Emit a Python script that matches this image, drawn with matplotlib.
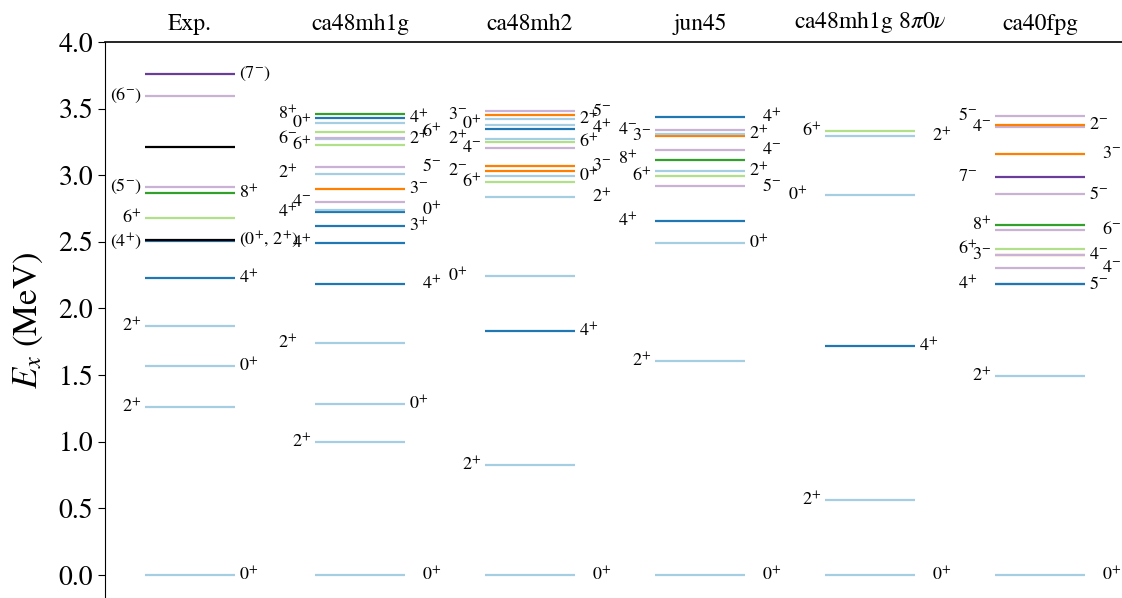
import re

import matplotlib.pyplot as plt
import numpy as np

plt.rcParams["font.family"] = "STIXGeneral"
plt.rcParams["mathtext.fontset"] = "stix"

# column titles
models = ["Exp.", "ca48mh1g", "ca48mh2", "jun45", r"ca48mh1g $8\pi0\nu$", "ca40fpg"]

# level energies (MeV) and spin-parity labels per column
exp_E = [0.0, 1.263, 1.568, 1.869, 2.231, 2.505, 2.515, 2.680, 2.864, 2.914, 3.210, 3.597, 3.760]
exp_J = ["0+", "2+", "0+", "2+", "4+", "(4+)", "(0+,2+)", "6+", "8+", "(5-)", "", "(6-)", "(7-)"]

mh1g_E = [0.0, 1.000, 1.283, 1.739, 2.186, 2.490, 2.617, 2.722, 2.739, 2.800,
          2.894, 3.012, 3.065, 3.227, 3.270, 3.277, 3.322, 3.392, 3.432, 3.457]
mh1g_J = ["0+", "2+", "0+", "2+", "4+", "4+", "3+", "4+", "0+", "4-",
          "3-", "2+", "5-", "6+", "2+", "6-", "6+", "0+", "4+", "8+"]

mh2_E = [0.0, 0.826, 1.831, 2.244, 2.839, 2.949, 2.992, 3.030, 3.067,
         3.204, 3.252, 3.270, 3.350, 3.380, 3.422, 3.452, 3.482]
mh2_J = ["0+", "2+", "4+", "0+", "2+", "6+", "0+", "2-", "3-",
         "4-", "6+", "2+", "4+", "0+", "2+", "3-", "5-"]

jun45_E = [0.0, 1.606, 2.491, 2.659, 2.919, 2.994, 3.030, 3.118, 3.187, 3.295, 3.307, 3.337, 3.437]
jun45_J = ["0+", "2+", "0+", "4+", "5-", "6+", "2+", "8+", "4-", "3-", "2+", "4-", "4+"]

onbb_E = [0.0, 0.563, 1.719, 2.849, 3.297, 3.332]
onbb_J = ["0+", "2+", "4+", "0+", "2+", "6+"]

fpg_E = [0.0, 1.493, 2.180, 2.182, 2.304, 2.398, 2.404, 2.446, 2.591, 2.629,
         2.859, 2.987, 3.157, 3.365, 3.375, 3.445]
fpg_J = ["0+", "2+", "5-", "4+", "4-", "3-", "4-", "6+", "6-", "8+",
         "5-", "7-", "3-", "4-", "2-", "5-"]

columns = [(exp_E, exp_J), (mh1g_E, mh1g_J), (mh2_E, mh2_J),
           (jun45_E, jun45_J), (onbb_E, onbb_J), (fpg_E, fpg_J)]

spin_colors = {
    "0+": "#a6cee3", "2+": "#a6cee3", "3+": "#1f78b4", "4+": "#1f78b4",
    "6+": "#b2df8a", "8+": "#33a02c", "2-": "#ff7f00", "3-": "#ff7f00",
    "4-": "#cab2d6", "5-": "#cab2d6", "6-": "#cab2d6", "7-": "#6a3d9a",
}


def level_color(j):
    key = j.strip("()")
    return spin_colors.get(key, "black")


def tex(j):
    s = re.sub(r"(\d)([+-])", r"\1^{\2}", j)
    return "$" + s.replace(",", ",\\,") + "$"


fig = plt.figure(figsize=(11.22, 5.98), dpi=100)
ax = fig.add_axes([105 / 1122, 0.0, 1020 / 1122, 556 / 598])

half = 0.265
for i, (E, J) in enumerate(columns):
    for e, j in zip(E, J):
        ax.hlines(e, i - half, i + half, color=level_color(j), lw=1.6)

    # labels alternate right/left going up; model columns also stagger outward
    order = sorted(range(len(E)), key=lambda k: E[k])
    for rank, k in enumerate(order):
        if not J[k]:
            continue
        right = rank % 2 == 0
        far = i > 0 and rank % 4 in (0, 3)
        dx = 12.5 if far else 2.5
        if right:
            x, ha, off = i + half, "left", dx
        else:
            x, ha, off = i - half, "right", -dx
        ax.annotate(tex(J[k]), (x, E[k]), xytext=(off, 0), textcoords="offset points",
                    ha=ha, va="center", fontsize=13)

ax.set_xlim(-0.5, 5.5)
ax.set_ylim(-0.173, 4.0)
ax.set_yticks(np.arange(0, 4.01, 0.5))
ax.tick_params(axis="y", labelsize=20, length=5)
ax.set_ylabel(r"$E_x$ (MeV)", fontsize=25, labelpad=10)

ax.set_xticks(range(len(models)))
ax.set_xticklabels(models, fontsize=17)
ax.xaxis.tick_top()
ax.tick_params(axis="x", length=0, pad=5)

ax.spines["bottom"].set_visible(False)
ax.spines["right"].set_visible(False)
ax.spines["top"].set_linewidth(1.2)

fig.savefig("out.png", dpi=100)
